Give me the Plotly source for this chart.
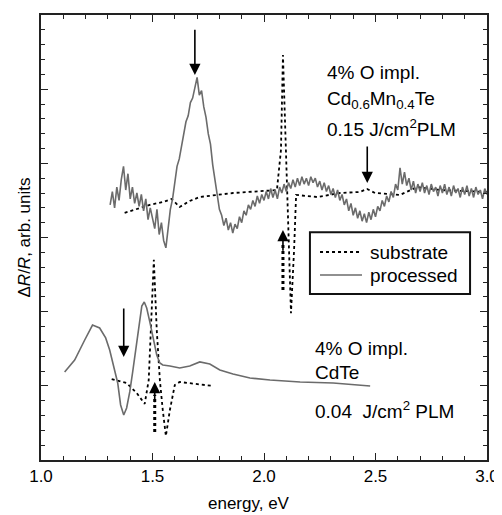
import plotly.graph_objects as go

# ---------------- data ----------------
# Cd0.6Mn0.4Te, processed (noisy), sampled every 0.01 eV from 1.31 eV
cdmnte_proc_start = 1.31
cdmnte_proc_step = 0.01
cdmnte_proc_y = [
    17.2, 18.1, 17.0, 18.4, 17.5, 18.9, 19.8, 18.2, 19.3, 17.6,
    18.4, 17.3, 18.0, 17.1, 17.9, 16.8, 17.6, 16.2, 17.0, 16.4,
    15.6, 16.9, 15.2, 16.0, 14.8, 14.3, 15.6, 16.9, 17.6, 18.6,
    19.8, 20.3, 21.2, 21.9, 22.8, 23.2, 24.1, 24.4, 25.0, 25.8,
    24.6, 24.9, 23.8, 23.1, 22.0, 21.3, 19.9, 18.8, 17.9, 16.9,
    16.5, 15.8, 16.3, 15.5, 16.0, 15.3, 15.9, 15.6, 16.4, 16.0,
    16.8, 16.5, 17.2, 16.9, 17.5, 17.1, 17.8, 17.3, 17.9, 17.5,
    18.1, 17.6, 18.3, 17.7, 18.2, 17.6, 18.4, 18.0, 18.6, 18.1,
    18.7, 18.3, 18.9, 18.4, 19.0, 18.5, 19.1, 18.6, 19.0, 18.5,
    19.1, 18.7, 19.0, 18.4, 18.8, 18.2, 18.7, 18.1, 18.5, 17.9,
    18.3, 17.7, 18.2, 17.5, 17.9, 17.2, 17.6, 16.8, 17.3, 16.5,
    17.0, 16.3, 16.8, 16.1, 16.6, 16.0, 16.7, 16.2, 16.9, 16.4,
    17.1, 16.8, 17.5, 17.1, 17.8, 17.4, 18.1, 17.7, 18.6, 18.2,
    19.7, 18.6, 19.4, 18.5, 19.0, 18.2, 18.8, 18.0, 18.6, 18.1,
    18.7, 18.0, 18.5, 17.9, 18.6, 18.1, 18.4, 17.8, 18.5, 18.0,
    18.6, 17.9, 18.4, 17.8, 18.5, 18.0, 18.3, 17.7, 18.4, 17.9,
    18.5, 17.8, 18.3, 17.7, 18.4, 17.9, 18.2, 17.6, 18.3, 17.9,
]
cdmnte_proc_x = [round(cdmnte_proc_start + cdmnte_proc_step * i, 3) for i in range(len(cdmnte_proc_y))]

# Cd0.6Mn0.4Te, substrate
cdmnte_sub_x = [1.375, 1.488, 1.55, 1.585, 1.622, 1.667, 1.712, 1.861, 2.058, 2.076, 2.085,
                2.099, 2.112, 2.121, 2.135, 2.144, 2.238, 2.342, 2.43, 2.462, 2.498,
                2.61, 2.687, 2.79, 3.0]
cdmnte_sub_y = [16.66, 17.2, 17.4, 17.6, 17.06, 17.46, 17.73, 18.0, 18.2, 20.9, 27.3,
                20.9, 14.2, 9.9, 14.2, 17.87, 17.73, 18.0, 18.07, 18.27, 18.0,
                17.87, 18.4, 18.2, 18.07]

# CdTe, processed
cdte_proc_x = [1.106, 1.151, 1.196, 1.231, 1.263, 1.29, 1.308, 1.33, 1.344, 1.357, 1.371,
               1.384, 1.398, 1.411, 1.429, 1.443, 1.452, 1.463, 1.474, 1.488, 1.506,
               1.519, 1.533, 1.546, 1.578, 1.622, 1.667, 1.712, 1.757, 1.802, 1.861,
               1.937, 2.027, 2.162, 2.31, 2.476]
cdte_proc_y = [5.93, 6.74, 8.09, 9.10, 8.90, 8.23, 7.42, 6.07, 5.19, 3.71, 3.03,
               3.51, 4.59, 5.93, 7.75, 9.44, 10.38, 10.65, 10.25, 9.31, 7.96,
               7.08, 6.54, 6.41, 6.34, 6.20, 6.34, 6.61, 6.47, 6.07, 5.80,
               5.53, 5.39, 5.26, 5.19, 4.99]

# CdTe, substrate
cdte_sub_x = [1.317, 1.384, 1.429, 1.465, 1.483, 1.506, 1.519, 1.533, 1.546, 1.56,
              1.578, 1.60, 1.622, 1.771]
cdte_sub_y = [5.46, 5.19, 4.52, 3.78, 5.39, 13.49, 8.77, 5.39, 3.37, 1.62,
              3.37, 5.06, 5.26, 4.99]

x_ticks = [1.0, 1.5, 2.0, 2.5, 3.0]
x_tick_labels = ["1.0", "1.5", "2.0", "2.5", "3.0"]
legend_names = ["substrate", "processed"]

# ---------------- figure ----------------
FONT = "Liberation Sans, Arial, sans-serif"
GRAY = "#6b6b6b"
SUB_LINE = dict(color="black", width=1.8, dash="dot")
PROC_LINE = dict(color=GRAY, width=1.6)

fig = go.Figure()
fig.add_trace(go.Scatter(x=cdmnte_sub_x, y=cdmnte_sub_y, mode="lines", name="substrate",
                         line=SUB_LINE, showlegend=False))
fig.add_trace(go.Scatter(x=cdmnte_proc_x, y=cdmnte_proc_y, mode="lines", name="processed",
                         line=PROC_LINE, showlegend=False))
fig.add_trace(go.Scatter(x=cdte_sub_x, y=cdte_sub_y, mode="lines", name="substrate",
                         line=SUB_LINE, showlegend=False))
fig.add_trace(go.Scatter(x=cdte_proc_x, y=cdte_proc_y, mode="lines", name="processed",
                         line=PROC_LINE, showlegend=False))

# dashed shafts of the upward arrows
for sx, y0, y1 in [(2.085, 11.46, 14.6), (1.51, 1.89, 4.4)]:
    fig.add_shape(type="line", x0=sx, x1=sx, y0=y0, y1=y1, xref="x", yref="y",
                  line=dict(color="black", width=3, dash="dot"))

arrows = [
    (1.69, 25.96, 1.69, 29.1),
    (2.463, 18.68, 2.463, 21.24),
    (1.371, 6.95, 1.371, 10.32),
    (2.085, 15.51, 2.085, 14.0),
    (1.51, 5.26, 1.51, 3.8),
]
for x, y, ax, ay in arrows:
    fig.add_annotation(x=x, y=y, ax=ax, ay=ay, xref="x", yref="y", axref="x", ayref="y",
                       showarrow=True, arrowhead=2, arrowsize=1.4, arrowwidth=1.6,
                       arrowcolor="black", text="")

texts = [
    (2.275, 26.1, "4% O impl."),
    (2.275, 24.25, "Cd<sub>0.6</sub>Mn<sub>0.4</sub>Te"),
    (2.275, 22.4, "0.15 J/cm<sup>2</sup>PLM"),
    (2.22, 7.55, "4% O impl."),
    (2.22, 5.87, "CdTe"),
    (2.22, 3.37, "0.04  J/cm<sup>2</sup> PLM"),
]
for x, y, t in texts:
    fig.add_annotation(x=x, y=y, xref="x", yref="y", text=t, showarrow=False,
                       xanchor="left", yanchor="middle",
                       font=dict(family=FONT, size=19, color="black"))

# legend box (drawn in paper coordinates)
fig.add_shape(type="rect", xref="paper", yref="paper", x0=0.603, x1=0.962, y0=0.373, y1=0.512,
              line=dict(color="#111", width=2), fillcolor="white", layer="above")
for yy, style, name in [(0.4674, SUB_LINE, legend_names[0]), (0.4157, PROC_LINE, legend_names[1])]:
    fig.add_shape(type="line", xref="paper", yref="paper", x0=0.6256, x1=0.7197, y0=yy, y1=yy,
                  line=dict(color=style["color"], width=style["width"], dash=style.get("dash", "solid")),
                  layer="above")
    fig.add_annotation(x=0.733, y=yy, xref="paper", yref="paper", text=name, showarrow=False,
                       xanchor="left", yanchor="middle",
                       font=dict(family=FONT, size=19, color="black"))

# x-axis title (sits slightly left of centre in the original)
fig.add_annotation(x=0.466, y=-0.097, xref="paper", yref="paper", text="energy, eV",
                   showarrow=False, xanchor="center", yanchor="middle",
                   font=dict(family=FONT, size=17, color="black"))

axis_common = dict(showline=True, linecolor="#222", linewidth=1.5, mirror="allticks",
                   ticks="inside", tickcolor="#222", tickwidth=1.2, showgrid=False,
                   zeroline=False)

fig.update_xaxes(range=[1.0, 3.0], tickmode="array", tickvals=x_ticks, ticktext=x_tick_labels,
                 ticklen=7, tickfont=dict(family=FONT, size=17, color="black"),
                 minor=dict(dtick=0.1, ticks="inside", ticklen=4, tickcolor="#222", tickwidth=1.2),
                 automargin=False, **axis_common)
fig.update_yaxes(range=[0, 30], tick0=0, dtick=5, ticklen=7, showticklabels=False,
                 minor=dict(dtick=1, ticks="inside", ticklen=4, tickcolor="#222", tickwidth=1.2),
                 title=dict(text="Δ<i>R</i>/<i>R</i>, arb. units",
                            font=dict(family=FONT, size=17, color="black"), standoff=4),
                 automargin=False, **axis_common)

fig.update_layout(
    width=494, height=507,
    margin=dict(l=33, r=15, t=7, b=55),
    plot_bgcolor="white", paper_bgcolor="white",
    font=dict(family=FONT, color="black"),
    showlegend=False,
)

fig.write_html("out.html")
